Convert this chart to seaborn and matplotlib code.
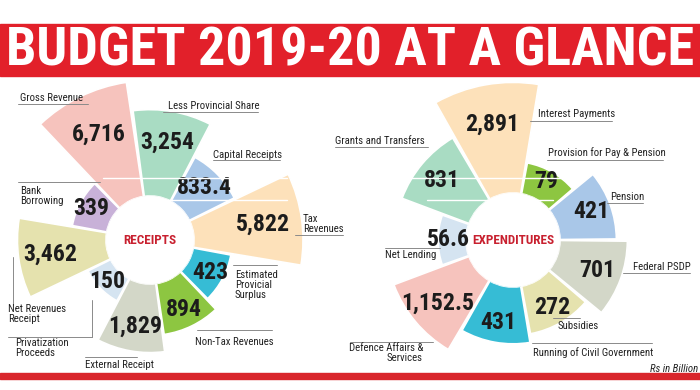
import numpy as np
import pandas as pd
import matplotlib
matplotlib.use('Agg')
import matplotlib.pyplot as plt
from matplotlib import font_manager
from matplotlib.patches import Rectangle
import seaborn as sns

# Receipts, clockwise from the top (Rs in billion)
receipt_names = ['Less Provincial Share', 'Capital Receipts', 'Tax Revenues',
                 'Estimated Provicial Surplus', 'Non-Tax Revenues', 'External Receipt',
                 'Privatization Proceeds', 'Net Revenues Receipt', 'Bank Borrowing',
                 'Gross Revenue']
receipt_values = [3254, 833.4, 5822, 423, 894, 1829, 150, 3462, 339, 6716]
receipt_text = ['3,254', '833.4', '5,822', '423', '894', '1,829', '150', '3,462', '339', '6,716']
receipt_colors = ['#a9dcc3', '#a9c7e8', '#fde1ba', '#36bcd5', '#8dc641', '#d3d7c8',
                  '#d5e4f1', '#e5e2ae', '#c8b1d8', '#f6c3bd']

# Expenditures, clockwise from the top
expense_names = ['Interest Payments', 'Provision for Pay & Pension', 'Pension', 'Federal PSDP',
                 'Subsidies', 'Running of Civil Government', 'Defence Affairs & Services',
                 'Net Lending', 'Grants and Transfers']
expense_values = [2891, 79, 421, 701, 272, 431, 1152.5, 56.6, 831]
expense_text = ['2,891', '79', '421', '701', '272', '431', '1,152.5', '56.6', '831']
expense_colors = ['#fde1ba', '#8dc641', '#a9c7e8', '#d3d7c8', '#e5e2ae', '#36bcd5',
                  '#f6c3bd', '#d5e4f1', '#a9dcc3']

sns.set_theme(style='white')

# look for a narrow face; fall back to condensed DejaVu, then plain DejaVu
fonts = font_manager.fontManager.ttflist
names = {f.name for f in fonts}
narrow, stretch = 'DejaVu Sans', 'normal'
for cand in ['Liberation Sans Narrow', 'Roboto Condensed', 'Open Sans Condensed',
             'DejaVu Sans Condensed', 'Noto Sans Condensed', 'Arial Narrow']:
    if cand in names:
        narrow = cand
        break
else:
    cond = [f.name for f in fonts if str(f.stretch) in ('condensed', 'semi-condensed', '75', '87')
            or 'Condensed' in f.fname or 'Narrow' in f.fname]
    if cond:
        narrow = cond[0]
        stretch = 'condensed'
plt.rcParams['font.family'] = [narrow, 'DejaVu Sans']
plt.rcParams['font.stretch'] = stretch

W, H = 700, 390
fig = plt.figure(figsize=(7, 3.9), dpi=100)
fig.patch.set_facecolor('white')
renderer = fig.canvas.get_renderer()


def fit_size(s, target_w, base=20, **kw):
    # font size that gives a text of the target width in pixels
    t = fig.text(0, 0, s, fontsize=base, **kw)
    w = t.get_window_extent(renderer).width
    t.remove()
    return base * target_w / w


num_size = fit_size('6,716', 54, weight='bold')
lab_size = min(fit_size('Gross Revenue', 63), 8)
ctr_size = fit_size('EXPENDITURES', 82, weight='bold')


def rose(cx, cy, hole, rmax, start, names, values, texts, colors, k, power):
    # polar axes laid out in pixel units: 1 radial unit = 1 px
    ax = fig.add_axes([(cx - rmax) / W, (H - cy - rmax) / H, 2 * rmax / W, 2 * rmax / H],
                      projection='polar')
    step = 360 / len(values)
    theta = np.deg2rad(start + step * np.arange(len(values)))
    df = pd.DataFrame({'theta': theta, 'r': k * np.asarray(values) ** power, 'name': names})
    sns.barplot(data=df, x='theta', y='r', hue='name', palette=colors, native_scale=True,
                width=0.97, errorbar=None, legend=False, saturation=1, orient='x',
                edgecolor='white', linewidth=1.2, ax=ax)
    ax.set_theta_zero_location('N')
    ax.set_theta_direction(-1)
    ax.set_xlim(0, 2 * np.pi)
    ax.set_ylim(0, rmax - hole)
    ax.set_rorigin(-hole)
    ax.axis('off')
    for t, r, s in zip(df['theta'], df['r'], texts):
        ax.text(t, 0.64 * r, s, ha='center', va='center', fontsize=num_size,
                weight='bold', color='#1c1c1c')
    return ax


rose(150, 240, 44, 175, 10, receipt_names, receipt_values, receipt_text, receipt_colors, 3.4, 0.4)
rose(513, 240, 47, 175, -10, expense_names, expense_values, expense_text, expense_colors, 6.8, 0.35)

ov = fig.add_axes([0, 0, 1, 1])
ov.set_xlim(0, W)
ov.set_ylim(H, 0)
ov.axis('off')

# banner
ov.add_patch(Rectangle((0, 24), W, 52, color='#e2202a'))
title = ov.text(350, 51, 'BUDGET 2019-20 AT A GLANCE', ha='center', va='center',
                color='white', weight='bold',
                fontsize=fit_size('BUDGET 2019-20 AT A GLANCE', 688, weight='bold'))
ov.add_patch(Rectangle((0, 373), W, 6, color='#d9262c'))

# centre titles
ov.text(150, 240, 'RECEIPTS', ha='center', va='center', color='#c8202f', weight='bold',
        fontsize=ctr_size)
ov.text(513, 240, 'EXPENDITURES', ha='center', va='center', color='#c8202f', weight='bold',
        fontsize=ctr_size)

# category labels (image pixel coordinates)
labels = [
    ('Gross Revenue', 20, 98, 'left'),
    ('Less Provincial Share', 168, 106, 'left'),
    ('Capital Receipts', 213, 155, 'left'),
    ('Tax\nRevenues', 303, 224, 'left'),
    ('Estimated\nProvicial\nSurplus', 235, 285, 'left'),
    ('Non-Tax Revenues', 195, 342, 'left'),
    ('External Receipt', 85, 365, 'left'),
    ('Privatization\nProceeds', 15, 348, 'left'),
    ('Net Revenues\nReceipt', 8, 314, 'left'),
    ('Bank\nBorrowing', 20, 196, 'left'),
    ('Interest Payments', 538, 114, 'left'),
    ('Grants and Transfers', 335, 141, 'left'),
    ('Provision for Pay & Pension', 548, 153, 'left'),
    ('Pension', 610, 197, 'left'),
    ('Federal PSDP', 633, 267, 'left'),
    ('Subsidies', 558, 326, 'left'),
    ('Running of Civil Government', 533, 353, 'left'),
    ('Defence Affairs &\nServices', 423, 353, 'right'),
    ('Net Lending', 385, 255, 'left'),
]
for s, x, y, ha in labels:
    ov.text(x, y, s, ha=ha, va='center', fontsize=lab_size, color='#222222', linespacing=0.95)

leaders = [
    ((18, 88), (104, 104)), ((163, 258), (112, 112)), ((213, 280), (160, 160)),
    ((295, 343), (235, 235)), ((233, 277), (265, 265)), ((197, 272), (330, 330)),
    ((85, 137), (357, 357)), ((8, 92), (337, 337)), ((92, 92), (300, 337)),
    ((13, 13), (257, 305)), ((18, 100), (182, 182)),
    ((530, 612), (121, 121)), ((335, 428), (147, 147)), ((547, 663), (160, 160)),
    ((607, 643), (203, 203)), ((623, 690), (273, 273)), ((553, 580), (318, 318)),
    ((532, 652), (343, 343)), ((350, 433), (342, 342)), ((385, 440), (248, 248)),
]
for xs, ys in leaders:
    ov.plot(xs, ys, color='#8a8a8a', lw=0.7)

# thin white scan lines crossing the wedges
for xs, y in [((103, 287), 178), ((163, 287), 200), ((397, 573), 178), ((427, 553), 200)]:
    ov.plot(xs, (y, y), color='white', lw=1)

ov.text(698, 369, 'Rs in Billion', ha='right', va='center', fontsize=lab_size, style='italic',
        color='#222222')

fig.savefig('out.png', dpi=100, facecolor='white')
